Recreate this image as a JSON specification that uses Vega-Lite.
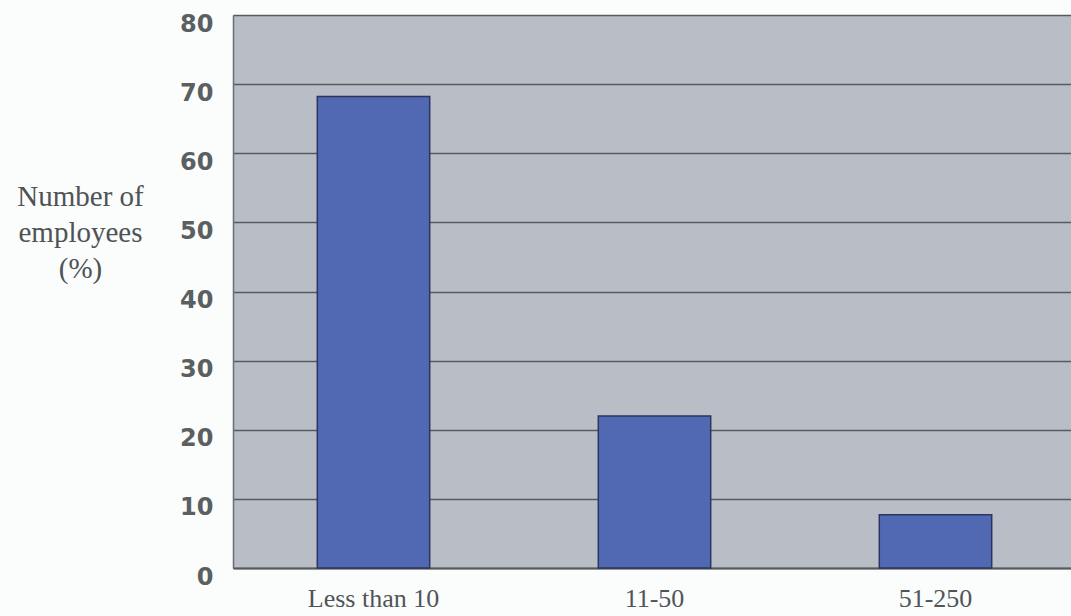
{
  "$schema": "https://vega.github.io/schema/vega-lite/v6.json",
  "autosize": "none",
  "width": 843,
  "height": 553,
  "padding": {"left": 233, "top": 15, "right": 0, "bottom": 48},
  "background": "#fbfcfc",
  "view": {"fill": "#b9bdc5", "stroke": null},
  "data": {
    "values": [
      {"size": "Less than 10", "pct": 68.2},
      {"size": "11-50", "pct": 22.0},
      {"size": "51-250", "pct": 7.7}
    ]
  },
  "mark": {"type": "bar", "color": "#5169b3", "stroke": "#2a3560", "strokeWidth": 1.5},
  "encoding": {
    "x": {
      "field": "size",
      "type": "nominal",
      "sort": null,
      "scale": {"paddingInner": 0.6, "paddingOuter": 0.3},
      "axis": {
        "title": null,
        "labelAngle": 0,
        "labelFont": "Liberation Serif",
        "labelFontSize": 26,
        "labelColor": "#505557",
        "labelBaseline": "alphabetic",
        "labelPadding": 38,
        "ticks": false,
        "domainColor": "#555a5c",
        "domainWidth": 2,
        "grid": false
      }
    },
    "y": {
      "field": "pct",
      "type": "quantitative",
      "scale": {"domain": [0, 80]},
      "axis": {
        "values": [0, 10, 20, 30, 40, 50, 60, 70, 80],
        "title": ["Number of", "employees", "(%)"],
        "titleAngle": 0,
        "titleX": -153,
        "titleY": 190,
        "titleAlign": "center",
        "titleBaseline": "alphabetic",
        "titleFont": "Liberation Serif",
        "titleFontSize": 29,
        "titleFontWeight": "normal",
        "titleColor": "#4e5355",
        "titleLineHeight": 36,
        "labelFont": "DejaVu Sans",
        "labelFontSize": 24,
        "labelFontWeight": "bold",
        "labelColor": "#5a5f61",
        "labelPadding": 20,
        "labelOffset": 9,
        "ticks": false,
        "domainColor": "#6a6e72",
        "domainWidth": 1.5,
        "grid": true,
        "gridColor": "#575b60",
        "gridWidth": 1.5
      }
    }
  }
}
